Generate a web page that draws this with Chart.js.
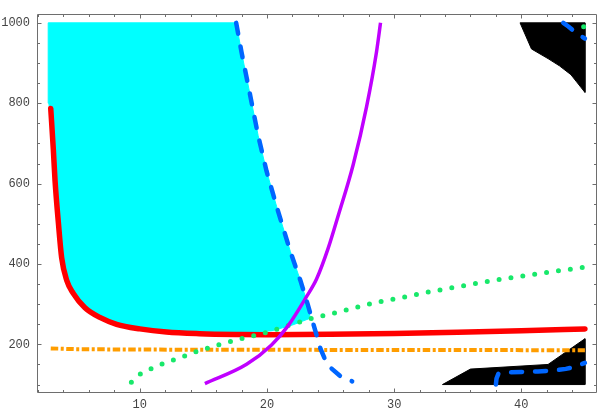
<!DOCTYPE html>
<html><head><meta charset="utf-8">
<script src="https://cdn.jsdelivr.net/npm/chart.js@4/dist/chart.umd.min.js"></script>
<style>html,body{margin:0;padding:0;background:#fff;}</style>
</head><body>
<canvas id="c" width="599" height="412"></canvas>
<script>
// axis ticks
const xTicks = [10, 20, 30, 40];
const yTicks = [200, 400, 600, 800, 1000];
const xMinorTicks = [2,4,6,8,12,14,16,18,22,24,26,28,32,34,36,38,42,44,46];
const yMinorTicks = [100,150,250,300,350,450,500,550,650,700,750,850,900,950];

// red curve
const redX = [3.0, 3.2, 3.34, 3.6, 3.86, 4.26, 4.77, 5.69, 6.86, 8.18, 10, 12.1, 14.7, 18, 20, 25, 30, 35, 40, 45];
const redY = [787, 687, 607, 503, 415, 359, 327, 291, 267, 250, 238.5, 230.5, 226.5, 224.5, 224, 225, 227, 230, 234, 238.5];

// orange dot-dash
const orangeX = [3, 5, 10, 20, 30, 45];
const orangeY = [190, 188, 187, 186.5, 186, 185.5];

// green dotted
const greenX = [9.34, 10, 10.84, 11.71, 12.55, 13.42, 14.29, 16, 18, 20, 22, 23.2, 25.9, 28.7, 30.5, 33, 36, 39, 42, 45];
const greenY = [106, 125, 138.5, 150.5, 160, 169.7, 180, 197, 214, 230, 250, 262, 282.6, 305, 316, 332, 349, 365, 379, 392];
const green2X = [44.9, 45];
const green2Y = [990, 966];

// purple
const purpleX = [15.12, 18.4, 20.36, 21.67, 23.11, 23.9, 24.81, 25.6, 26.78, 27.83, 28.61, 28.93];
const purpleY = [102.5, 150.5, 198.6, 246.6, 318.6, 362.5, 438.7, 520, 647, 791, 927, 1000];

// blue dashed
const blueX = [17.58, 18.0, 18.66, 19.31, 19.97, 20.76, 21.84, 22.63, 23.2, 23.68, 24.2, 24.6, 25.0, 25.8, 26.7];
const blueY = [1000, 927, 823, 719, 631, 543, 431, 359, 300, 247, 190, 160, 142, 120, 108];
const blue2X = [38.0, 38.05, 38.2, 38.9, 40, 41.3, 42.6, 43.5, 44.2, 45];
const blue2Y = [100, 115, 127, 130, 131.5, 132.5, 135, 139, 144, 154];
const blue3X = [43.3, 43.7, 44.3, 45];
const blue3Y = [1000, 991, 975, 961];

// cyan region outline
const cyanX = [2.8, 17.58, 18.0, 18.66, 19.31, 19.97, 20.76, 21.84, 22.63, 23.2, 23.4, 22, 20.4, 18, 14.7, 12.1, 10, 8.18, 6.86, 5.69, 4.77, 4.26, 3.86, 3.6, 3.34, 3.2, 3.0, 2.85, 2.8];
const cyanY = [1000, 1000, 927, 823, 719, 631, 543, 431, 359, 300, 265, 248, 234, 227, 229, 233, 241, 253, 270, 294, 331, 363, 420, 505, 600, 680, 760, 800, 1000];

// black regions
const blackTopX = [39.9, 45, 45, 44.3, 43.9, 43, 42.1, 40.8, 39.9];
const blackTopY = [1000, 1000, 827, 855, 871, 893, 911, 935, 1000];
const blackBotX = [33.8, 36.0, 42.1, 45, 45, 33.8];
const blackBotY = [100, 138.5, 150, 214, 100, 100];

function pts(xs, ys) { return xs.map((x, i) => ({ x: x, y: ys[i] })); }

const base = { showLine: true, pointRadius: 0, pointHoverRadius: 0, tension: 0, fill: false };

const frameColor = '#6e6e6e';
const framePlugin = {
  id: 'frame',
  afterDatasetsDraw(chart) {
    const ctx = chart.ctx, a = chart.chartArea;
    const xs = chart.scales.x, ys = chart.scales.y;
    ctx.save();
    ctx.strokeStyle = frameColor;
    ctx.lineWidth = 1;
    const L = Math.round(a.left) + 0.5, R = Math.round(a.right) - 0.5;
    const T = Math.round(a.top) + 0.5, B = Math.round(a.bottom) - 0.5;
    ctx.beginPath();
    ctx.rect(L, T, R - L, B - T);
    ctx.stroke();
    ctx.beginPath();
    const drawX = (v, len) => {
      const p = Math.round(xs.getPixelForValue(v)) + 0.5;
      if (p < L || p > R) return;
      ctx.moveTo(p, B); ctx.lineTo(p, B - len);
      ctx.moveTo(p, T); ctx.lineTo(p, T + len);
    };
    const drawY = (v, len) => {
      const p = Math.round(ys.getPixelForValue(v)) + 0.5;
      if (p < T || p > B) return;
      ctx.moveTo(L, p); ctx.lineTo(L + len, p);
      ctx.moveTo(R, p); ctx.lineTo(R - len, p);
    };
    xTicks.forEach(v => drawX(v, 4));
    xMinorTicks.forEach(v => drawX(v, 2.5));
    yTicks.forEach(v => drawY(v, 4));
    yMinorTicks.forEach(v => drawY(v, 2.5));
    ctx.stroke();
    ctx.restore();
  }
};

new Chart(document.getElementById('c'), {
  type: 'scatter',
  data: {
    datasets: [
      Object.assign({}, base, { data: pts(blueX, blueY), borderColor: '#0066ff', borderWidth: 4.5, borderDash: [11, 13], borderCapStyle: 'round' }),
      Object.assign({}, base, { data: pts(blue2X, blue2Y), borderColor: '#0066ff', borderWidth: 4.5, borderDash: [11, 13], borderCapStyle: 'round' }),
      Object.assign({}, base, { data: pts(blue3X, blue3Y), borderColor: '#0066ff', borderWidth: 4.5, borderDash: [11, 13], borderCapStyle: 'round' }),
      Object.assign({}, base, { data: pts(purpleX, purpleY), borderColor: '#c000ff', borderWidth: 3.5, cubicInterpolationMode: 'monotone' }),
      Object.assign({}, base, { data: pts(greenX, greenY), borderColor: '#18e86a', borderWidth: 5, borderDash: [0, 12], borderCapStyle: 'round', cubicInterpolationMode: 'monotone' }),
      Object.assign({}, base, { data: pts(green2X, green2Y), borderColor: '#18e86a', borderWidth: 5, borderDash: [0, 12], borderCapStyle: 'round' }),
      Object.assign({}, base, { data: pts(orangeX, orangeY), borderColor: '#ff9d00', borderWidth: 4, borderDash: [7.5, 2.5, 3, 2.5], borderCapStyle: 'butt' }),
      Object.assign({}, base, { data: pts(redX, redY), borderColor: '#ff0000', borderWidth: 5.5, borderCapStyle: 'round', cubicInterpolationMode: 'monotone' }),
      Object.assign({}, base, { data: pts(blackTopX, blackTopY), borderColor: '#000', backgroundColor: '#000', borderWidth: 1, fill: 'shape' }),
      Object.assign({}, base, { data: pts(blackBotX, blackBotY), borderColor: '#000', backgroundColor: '#000', borderWidth: 1, fill: 'shape' }),
      Object.assign({}, base, { data: pts(cyanX, cyanY), borderColor: '#00ffff', backgroundColor: '#00ffff', borderWidth: 1, fill: 'shape' })
    ]
  },
  options: {
    responsive: false,
    animation: false,
    devicePixelRatio: 1,
    layout: { padding: { left: 0, right: 2, top: 0, bottom: 0 } },
    plugins: { legend: { display: false }, tooltip: { enabled: false }, title: { display: false } },
    scales: {
      x: {
        type: 'linear', min: 1.92, max: 45.95,
        afterBuildTicks: s => { s.ticks = xTicks.map(v => ({ value: v })); },
        afterFit: s => { s.height = 19; },
        grid: { display: false, drawTicks: false },
        border: { display: false },
        ticks: { color: '#444', font: { family: 'Liberation Mono', size: 12 }, padding: 5, maxRotation: 0, autoSkip: false, callback: v => String(v) }
      },
      y: {
        type: 'linear', min: 79, max: 1021.5,
        afterBuildTicks: s => { s.ticks = yTicks.map(v => ({ value: v })); },
        afterFit: s => { s.width = 37; },
        grid: { display: false, drawTicks: false },
        border: { display: false },
        ticks: { color: '#444', font: { family: 'Liberation Mono', size: 12 }, padding: 7, autoSkip: false, callback: v => String(v) }
      }
    }
  },
  plugins: [framePlugin]
});
</script>
</body></html>
